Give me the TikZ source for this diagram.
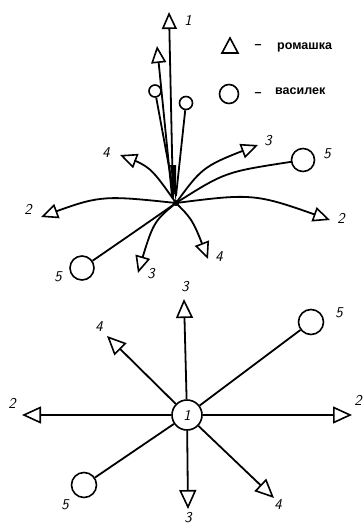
\documentclass[tikz,border=0pt]{standalone}
\usepackage{fontspec}
\setmainfont{Liberation Sans}
\usetikzlibrary{arrows.meta,bending}
\tikzset{
  ln/.style={line width=1.8pt},
  tri/.style={ln,-{Triangle[open,length=17pt,width=15pt,line width=1.6pt]}},
  trib/.style={ln,-{Triangle[open,length=19pt,width=17pt,line width=1.6pt]}},
  circ/.style={draw,circle,line width=1.6pt,inner sep=0pt,minimum size=#1},
  lab/.style={font=\sffamily\itshape\fontsize{15}{15}\selectfont,inner sep=0pt},
  leg/.style={font=\bfseries\fontsize{12.5}{12.5}\selectfont,inner sep=0pt,anchor=west}
}
\begin{document}
\begin{tikzpicture}[x=1pt,y=-1pt]
\useasboundingbox (0,0) rectangle (363,525);
% ---------- top diagram ----------
\coordinate (hub) at (176,203);
\coordinate (h1) at (173,198);
\coordinate (h2) at (172,196);
\coordinate (h3) at (174,194);
\coordinate (h4) at (176,196);
\coordinate (a1) at (169,12);
\coordinate (a2) at (157,46);
\node[circ=12pt] (c1) at (155,91) {};
\node[circ=13pt] (c2) at (186,103) {};
\coordinate (a4ul) at (120,155);
\coordinate (a3ur) at (258,145);
\node[circ=23pt] (c5r) at (303,160) {};
\coordinate (a2r) at (330,220);
\coordinate (a2l) at (41,217);
\coordinate (a4lr) at (208,259);
\coordinate (a3lo) at (138,273);
\node[circ=24pt] (c5l) at (82,268) {};

\draw[tri] (h1) -- (a1);
\draw[tri] (h2) -- (a2);
\draw[ln] (h3) -- (c1);
\draw[ln] (h4) -- (c2);
\fill (hub) -- (170,165) -- (176,165) -- cycle;
\draw[tri] (hub) .. controls (150,166) .. (a4ul);
\draw[tri] (hub) .. controls (203,166) .. (a3ur);
\draw[ln] (hub) .. controls (225,172) .. (c5r);
\draw[tri] (hub) .. controls (255,193) .. (a2r);
\draw[tri] (hub) .. controls (100,195) .. (a2l);
\draw[tri] (hub) .. controls (193,220) .. (a4lr);
\draw[tri] (hub) .. controls (153,222) .. (a3lo);
\draw[ln] (hub) .. controls (130,235) .. (c5l);
\fill (hub) circle (3pt);

\node[lab] (t1) at (188,20) {1};
\node[lab] (t4a) at (106,153) {4};
\node[lab] (t3a) at (268,141) {3};
\node[lab] (t5a) at (327,154) {5};
\node[lab] (t2a) at (28,209) {2};
\node[lab] (t2b) at (341,218) {2};
\node[lab] (t4b) at (219,257) {4};
\node[lab] (t3b) at (151,274) {3};
\node[lab] (t5b) at (58,277) {5};

% legend
\draw[line width=1.6pt,line join=miter] (222,53) -- (238,53) -- (230,38) -- cycle;
\node[draw,circle,line width=1.6pt,inner sep=0pt,minimum size=19pt] (lc) at (229,94) {};
\node[leg,anchor=center] (ld1) at (258,47) {–};
\node[leg,anchor=center] (ld2) at (258,95) {–};
\node[leg] (lt1) at (277,47) {ромашка};
\node[leg] (lt2) at (275,91) {василек};

% ---------- bottom diagram ----------
\node[circ=30pt,font=\sffamily\itshape\fontsize{15}{15}\selectfont] (ctr) at (187,415) {1};
\coordinate (b3t) at (184,299);
\coordinate (b4ul) at (107,336);
\node[circ=25pt] (b5ur) at (311,322) {};
\coordinate (b2l) at (22,415);
\coordinate (b2r) at (352,415);
\coordinate (b3b) at (188,509);
\coordinate (b4lr) at (274,498);
\node[circ=25pt] (b5ll) at (84,485) {};

\draw[trib] (ctr) -- (b3t);
\draw[trib] (ctr) -- (b4ul);
\draw[ln] (ctr) -- (b5ur);
\draw[trib] (ctr) -- (b2l);
\draw[trib] (ctr) -- (b2r);
\draw[trib] (ctr) -- (b3b);
\draw[trib] (ctr) -- (b4lr);
\draw[ln] (ctr) -- (b5ll);

\node[lab] (u3t) at (185,287) {3};
\node[lab] (u4) at (99,327) {4};
\node[lab] (u5ur) at (339,313) {5};
\node[lab] (u2l) at (12,403) {2};
\node[lab] (u2r) at (358,400) {2};
\node[lab] (u3b) at (188,518) {3};
\node[lab] (u4lr) at (278,505) {4};
\node[lab] (u5ll) at (65,505) {5};
\end{tikzpicture}
\end{document}
